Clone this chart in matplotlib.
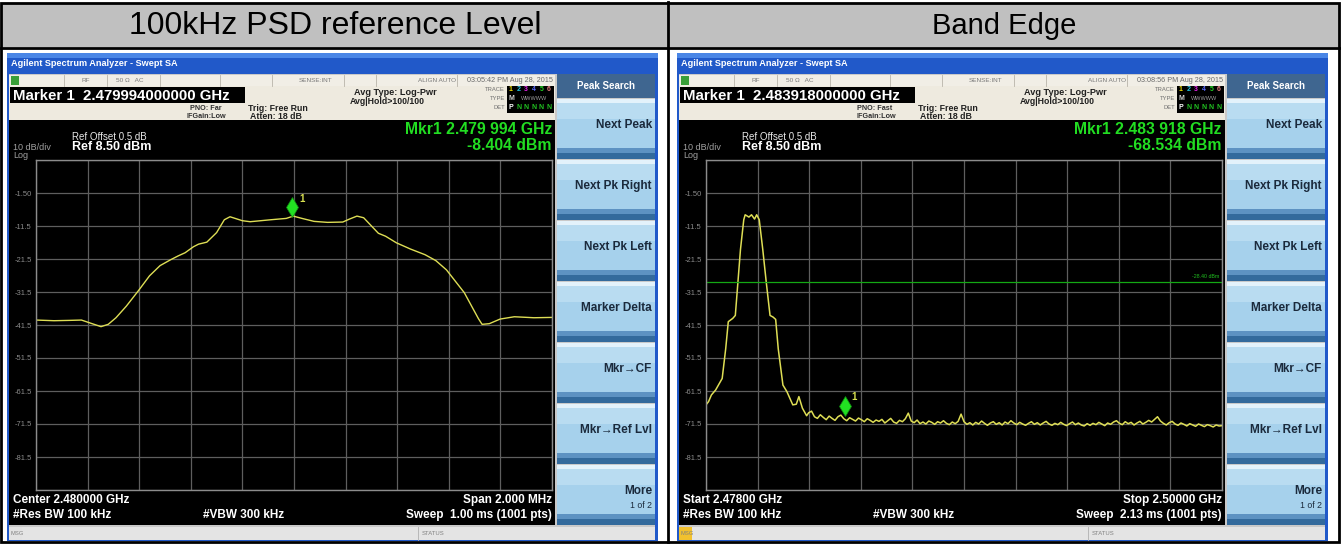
import matplotlib
matplotlib.use("Agg")
import matplotlib.pyplot as plt
from matplotlib.patches import Rectangle

W, H = 1341, 544
plt.rcParams["font.family"] = ["Liberation Sans", "DejaVu Sans"]

col_titles = ["100kHz PSD reference Level", "Band Edge"]
col_title_sizes = [23, 21]

# left screen: offset from centre 2.480 GHz (MHz) vs level (dBm)
psd_offset_mhz = [-1.000, -0.930, -0.870, -0.824, -0.790, -0.748, -0.720, -0.690, -0.650,
                  -0.602, -0.560, -0.519, -0.480, -0.450, -0.422, -0.390, -0.370, -0.338,
                  -0.300, -0.270, -0.248, -0.200, -0.170, -0.089, -0.030, -0.003, 0.036,
                  0.078, 0.130, 0.189, 0.215, 0.244, 0.270, 0.327, 0.355, 0.397, 0.452,
                  0.508, 0.550, 0.591, 0.660, 0.715, 0.729, 0.757, 0.799, 0.854, 0.930, 1.000]
psd_level_dbm = [-40.0, -40.2, -40.1, -40.0, -40.9, -42.0, -41.3, -39.3, -35.8,
                 -31.0, -26.6, -23.5, -21.8, -20.6, -19.6, -17.8, -17.0, -16.4,
                 -13.5, -9.6, -8.7, -9.9, -10.2, -9.6, -9.2, -8.5, -9.3,
                 -10.1, -10.4, -10.3, -9.4, -8.5, -9.0, -13.7, -14.6, -16.6, -18.5,
                 -20.2, -22.0, -24.8, -31.7, -39.6, -41.3, -41.1, -39.7, -39.0, -39.3, -39.2]
psd_marker = (-0.006, -8.404)

# right screen: main lobe, frequency (MHz) vs level (dBm)
be_lobe_mhz = [2478.00, 2478.11, 2478.23, 2478.41, 2478.69, 2478.84, 2478.95, 2479.14,
               2479.25, 2479.36, 2479.47, 2479.61, 2479.67, 2479.83, 2479.94, 2480.07,
               2480.16, 2480.27, 2480.42, 2480.57, 2480.73, 2480.86, 2480.97, 2481.08,
               2481.28, 2481.45, 2481.70, 2481.85, 2481.96, 2482.11, 2482.29]
be_lobe_dbm = [-65.7, -64.7, -62.7, -61.2, -57.7, -48.7, -40.5, -39.5,
               -38.6, -28.6, -18.6, -9.6, -8.1, -8.8, -8.1, -9.4,
               -8.1, -9.6, -18.6, -28.6, -38.6, -39.1, -39.8, -48.7,
               -59.7, -61.7, -65.7, -65.5, -63.2, -66.7, -69.0]
# right screen: noise floor above the band edge
be_floor_mhz = [
    2482.375, 2482.500, 2482.625, 2482.750, 2482.875, 2483.000, 2483.125, 2483.250,
    2483.375, 2483.500, 2483.625, 2483.750, 2483.875, 2484.000, 2484.125, 2484.250,
    2484.375, 2484.500, 2484.625, 2484.750, 2484.875, 2485.000, 2485.125, 2485.250,
    2485.375, 2485.500, 2485.625, 2485.750, 2485.875, 2486.000, 2486.125, 2486.250,
    2486.375, 2486.500, 2486.625, 2486.750, 2486.875, 2487.000, 2487.125, 2487.250,
    2487.375, 2487.500, 2487.625, 2487.750, 2487.875, 2488.000, 2488.125, 2488.250,
    2488.375, 2488.500, 2488.625, 2488.750, 2488.875, 2489.000, 2489.125, 2489.250,
    2489.375, 2489.500, 2489.625, 2489.750, 2489.875, 2490.000, 2490.125, 2490.250,
    2490.375, 2490.500, 2490.625, 2490.750, 2490.875, 2491.000, 2491.125, 2491.250,
    2491.375, 2491.500, 2491.625, 2491.750, 2491.875, 2492.000, 2492.125, 2492.250,
    2492.375, 2492.500, 2492.625, 2492.750, 2492.875, 2493.000, 2493.125, 2493.250,
    2493.375, 2493.500, 2493.625, 2493.750, 2493.875, 2494.000, 2494.125, 2494.250,
    2494.375, 2494.500, 2494.625, 2494.750, 2494.875, 2495.000, 2495.125, 2495.250,
    2495.375, 2495.500, 2495.625, 2495.750, 2495.875, 2496.000, 2496.125, 2496.250,
    2496.375, 2496.500, 2496.625, 2496.750, 2496.875, 2497.000, 2497.125, 2497.250,
    2497.375, 2497.500, 2497.625, 2497.750, 2497.875, 2498.000, 2498.125, 2498.250,
    2498.375, 2498.500, 2498.625, 2498.750, 2498.875, 2499.000, 2499.125, 2499.250,
    2499.375, 2499.500, 2499.625, 2499.750, 2499.875, 2500.000]
be_floor_dbm = [
    -68.1, -67.6, -69.3, -69.8, -68.7, -69.5, -70.2, -69.1,
    -69.8, -70.4, -69.3, -68.8, -69.9, -70.5, -69.6, -70.1,
    -70.6, -69.7, -70.2, -70.8, -69.9, -70.4, -71.0, -70.3,
    -70.7, -70.1, -71.2, -70.5, -69.8, -70.9, -71.3, -70.4,
    -70.8, -69.9, -68.2, -70.6, -71.1, -70.3, -71.4, -70.9,
    -71.5, -70.6, -71.0, -71.6, -70.8, -71.2, -70.5, -71.3,
    -71.7, -70.9, -71.4, -70.7, -68.5, -70.8, -71.6, -71.1,
    -71.8, -71.0, -71.5, -70.6, -71.3, -71.9, -71.2, -70.8,
    -71.6, -71.1, -71.8, -70.9, -71.4, -70.5, -71.2, -71.7,
    -71.0, -71.5, -71.9, -71.3, -70.8, -71.6, -71.1, -71.8,
    -71.2, -70.7, -71.5, -71.9, -71.3, -71.7, -71.0, -71.6,
    -72.0, -71.4, -70.9, -71.7, -71.2, -71.8, -72.1, -71.4,
    -71.9, -71.3, -71.7, -71.0, -71.5, -72.0, -71.2, -71.6,
    -70.9, -70.5, -71.3, -71.7, -70.8, -71.4, -71.0, -71.8,
    -71.2, -70.7, -71.5, -71.0, -70.4, -70.9, -70.1, -69.3,
    -70.6, -71.3, -71.8, -71.1, -70.7, -71.5, -71.9, -71.2,
    -71.6, -72.1, -71.4, -71.8, -72.2, -71.5, -71.9, -72.3,
    -71.7, -72.0, -72.4, -71.8, -72.1, -72.0]
be_marker = (2483.918, -68.534)
be_limit_dbm = -28.40

ref_level = 8.5
db_per_div = 10

screens = [
    dict(marker="Marker 1  2.479994000000 GHz", pno="PNO: Far", date="03:05:42 PM Aug 28, 2015",
         mkr_f="Mkr1 2.479 994 GHz", mkr_v="-8.404 dBm",
         f_left="Center 2.480000 GHz", f_right="Span 2.000 MHz",
         sweep="Sweep  1.00 ms (1001 pts)", xlim=(-1.0, 1.0), msg_color="#e2e2e2"),
    dict(marker="Marker 1  2.483918000000 GHz", pno="PNO: Fast", date="03:08:56 PM Aug 28, 2015",
         mkr_f="Mkr1 2.483 918 GHz", mkr_v="-68.534 dBm",
         f_left="Start 2.47800 GHz", f_right="Stop 2.50000 GHz",
         sweep="Sweep  2.13 ms (1001 pts)", xlim=(2478.0, 2500.0), msg_color="#f2c12e"),
]
softkeys = ["Next Peak", "Next Pk Right", "Next Pk Left", "Marker Delta",
            "Mkr\u2192CF", "Mkr\u2192Ref Lvl", "More"]

fig = plt.figure(figsize=(W / 100, H / 100), dpi=100)
fig.patch.set_facecolor("white")
ui = fig.add_axes([0, 0, 1, 1])
ui.set_xlim(0, W)
ui.set_ylim(H, 0)
ui.axis("off")


def box(x0, y0, x1, y1, color, **kw):
    ui.add_patch(Rectangle((x0, y0), x1 - x0, y1 - y0, facecolor=color, edgecolor="none", **kw))


def txt(x, y, s, size, color="black", ha="left", bold=False, **kw):
    ui.text(x, y, s, fontsize=size, color=color, ha=ha, va="center",
            fontweight="bold" if bold else "normal", **kw)


# table
box(2, 3, 1339, 47, "#c0c0c0")
for i, t in enumerate(col_titles):
    txt(335 + i * 669, 25.5, t, col_title_sizes[i], ha="center")
ui.add_patch(Rectangle((1.5, 2.5), 1338, 539, fill=False, edgecolor="black", lw=2))
ui.plot([1, 1340], [48, 48], color="black", lw=2)
ui.plot([668.5, 668.5], [2, 542], color="black", lw=2)

plot_axes = []
for k, sc in enumerate(screens):
    dx = 670 * k
    # window frame + title bar
    box(dx + 7, 53, dx + 658, 541, "#2159c9")
    box(dx + 7, 53, dx + 658, 58, "#4a86e6")
    txt(dx + 11, 64, "Agilent Spectrum Analyzer - Swept SA", 6.6, "white", bold=True)
    box(dx + 9, 74, dx + 655, 540, "#c9c9c9")
    # status row
    box(dx + 9, 75, dx + 555, 86, "#f1eee6")
    box(dx + 11, 76, dx + 19, 85, "#3aa03a")
    for sx in [64, 107, 160, 220, 272, 344, 376, 457]:
        ui.plot([dx + sx, dx + sx], [75, 86], color="#b8b4aa", lw=0.6)
    st = dict(size=4.6, color="#7a7a7a")
    txt(dx + 82, 80.5, "RF", **st)
    txt(dx + 116, 80.5, "50 \u03a9   AC", **st)
    txt(dx + 299, 80.5, "SENSE:INT", **st)
    txt(dx + 418, 80.5, "ALIGN AUTO", **st)
    txt(dx + 553, 80.5, sc["date"], 5.2, "#6a6a6a", ha="right")
    # marker panel
    box(dx + 9, 86, dx + 555, 120, "#eeeadf")
    box(dx + 10, 87, dx + 245, 103, "black")
    txt(dx + 13, 95.5, sc["marker"], 10.8, "white", bold=True)
    txt(dx + 222, 108, sc["pno"], 5.2, "#303030", ha="right", bold=True)
    txt(dx + 226, 116, "IFGain:Low", 5.2, "#303030", ha="right", bold=True)
    txt(dx + 248, 108.5, "Trig: Free Run", 6.3, "#202020", bold=True)
    txt(dx + 250, 116.5, "Atten: 18 dB", 6.3, "#202020", bold=True)
    txt(dx + 354, 92.5, "Avg Type: Log-Pwr", 6.6, "#202020", bold=True)
    txt(dx + 350, 101, "Avg|Hold>100/100", 6.3, "#202020", bold=True)
    for j, lab in enumerate(["TRACE", "TYPE", "DET"]):
        txt(dx + 505, 89.5 + 9 * j, lab, 4.2, "#707070", ha="right")
    box(dx + 507, 86, dx + 554, 113, "black")
    trace_cols = ["#e8d800", "#20c8e8", "#e020e0", "#5a6aff", "#20d020", "#e07a7a"]
    for j, c in enumerate(trace_cols):
        txt(dx + 511 + 7.6 * j, 89.5, str(j + 1), 5, c, ha="center", bold=True)
    txt(dx + 511, 98.5, "M", 5, "#d0d0d0", ha="center", bold=True)
    txt(dx + 534, 98.5, "WWWWW", 4, "#a0a0a0", ha="center")
    txt(dx + 511, 107.5, "P", 5, "white", ha="center", bold=True)
    for j in range(5):
        txt(dx + 518.6 + 7.6 * j, 107.5, "N", 5, "#20c020", ha="center", bold=True)
    # display
    box(dx + 9, 120, dx + 555, 525, "black")
    txt(dx + 72, 137, "Ref Offset 0.5 dB", 7, "#e8e8e8")
    txt(dx + 13, 147.5, "10 dB/div", 6.5, "#a0a0a0")
    txt(dx + 72, 147, "Ref 8.50 dBm", 9, "white", bold=True)
    txt(dx + 13, 155, "Log", 6.5, "#a0a0a0")
    txt(dx + 552, 130, sc["mkr_f"], 11.3, "#22dd22", ha="right", bold=True)
    txt(dx + 552, 146, sc["mkr_v"], 11.3, "#22dd22", ha="right", bold=True)
    txt(dx + 13, 500, sc["f_left"], 8.5, "white", bold=True)
    txt(dx + 13, 515, "#Res BW 100 kHz", 8.5, "white", bold=True)
    txt(dx + 203, 515, "#VBW 300 kHz", 8.5, "white", bold=True)
    txt(dx + 552, 500, sc["f_right"], 8.5, "white", ha="right", bold=True)
    txt(dx + 552, 515, sc["sweep"], 8.5, "white", ha="right", bold=True)
    # softkeys
    box(dx + 557, 74, dx + 655, 98, "#3f6690")
    txt(dx + 606, 86, "Peak Search", 7, "white", ha="center", bold=True)
    for j, lab in enumerate(softkeys):
        top = 99 + 61 * j
        box(dx + 557, top, dx + 655, top + 60, "#a6d1ec")
        box(dx + 557, top, dx + 655, top + 4, "#e3f2fb")
        box(dx + 557, top + 4, dx + 655, top + 20, "#b9dcf1")
        box(dx + 557, top + 49, dx + 655, top + 54, "#5d92c2")
        box(dx + 557, top + 54, dx + 655, top + 60, "#336a9c")
        txt(dx + 652, top + 26, lab, 8.5, "#1b2a3c", ha="right", bold=True)
    txt(dx + 652, 99 + 61 * 6 + 41, "1 of 2", 6.3, "#1b2a3c", ha="right")
    # message bar
    box(dx + 9, 527, dx + 655, 540, "#e4e4e4")
    box(dx + 9, 527, dx + 22, 540, sc["msg_color"])
    txt(dx + 11, 533.5, "MSG", 4.2, "#808080")
    ui.plot([dx + 418, dx + 418], [527, 540], color="#b0b0b0", lw=0.6)
    txt(dx + 422, 533.5, "STATUS", 4.2, "#808080")

    # graticule axes
    x0, y0, x1, y1 = dx + 36, 160, dx + 552, 490
    ax = fig.add_axes([x0 / W, 1 - y1 / H, (x1 - x0) / W, (y1 - y0) / H])
    ax.set_facecolor("black")
    lo, hi = sc["xlim"]
    ax.set_xlim(lo, hi)
    ax.set_ylim(ref_level - 10 * db_per_div, ref_level)
    ax.set_xticks([lo + (hi - lo) * i / 10 for i in range(11)])
    levels = [ref_level - db_per_div * i for i in range(11)]
    ax.set_yticks(levels)
    labels = [""] + [(f"{v:.2f}" if abs(v) < 10 else f"{v:.1f}") for v in levels[1:10]] + [""]
    ax.set_yticklabels(labels, fontsize=5.5, color="#8a8a8a")
    ax.set_xticklabels([])
    ax.tick_params(length=0, pad=3)
    ax.grid(True, color="#5e5e5e", lw=0.9)
    for s in ax.spines.values():
        s.set_color("#8c8c8c")
        s.set_linewidth(1.0)
    plot_axes.append(ax)

ax_psd, ax_be = plot_axes
ax_psd.plot(psd_offset_mhz, psd_level_dbm, color="#dede55", lw=1.0)
ax_be.plot(be_lobe_mhz + be_floor_mhz, be_lobe_dbm + be_floor_dbm, color="#dede55", lw=1.1)
ax_be.axhline(be_limit_dbm, color="#14a814", lw=0.9)
ax_be.text(0.995, be_limit_dbm + 0.9, f"{be_limit_dbm:.2f} dBm", transform=ax_be.get_yaxis_transform(),
           fontsize=3.8, color="#20c020", ha="right", va="bottom")
for ax, (mf, mv) in [(ax_psd, psd_marker), (ax_be, be_marker)]:
    ax.plot([mf], [mv + 2.6], marker="d", ms=10, color="#22e022", mec="#118811", mew=0.5)
    ax.annotate("1", (mf, mv + 2.6), xytext=(5, 4), textcoords="offset points",
                fontsize=7, color="#d8e050", fontweight="bold")

fig.savefig("out.png", dpi=100, facecolor="white")
